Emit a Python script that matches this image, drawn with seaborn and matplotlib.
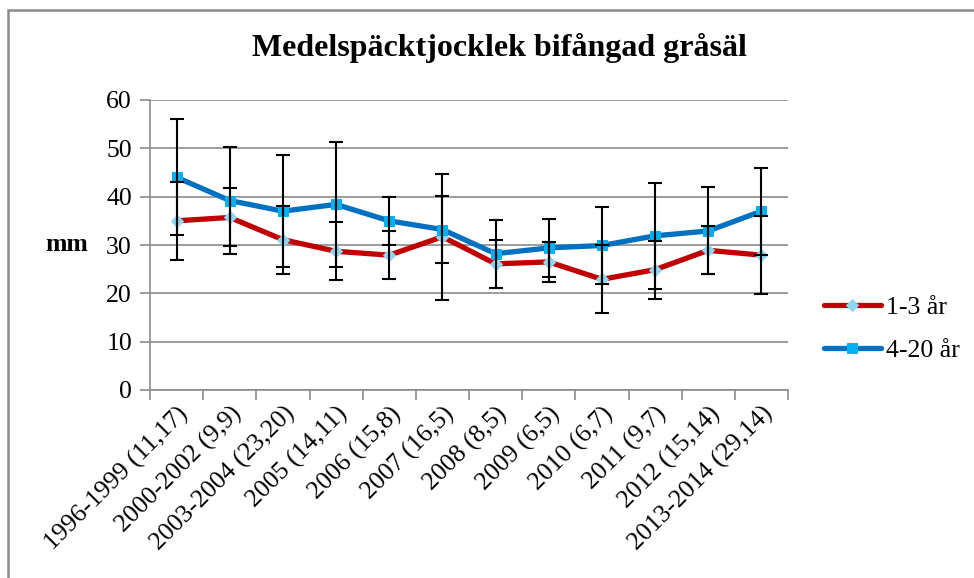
import numpy as np
import pandas as pd
import matplotlib
matplotlib.use("Agg")
import matplotlib.pyplot as plt
import seaborn as sns
from matplotlib.patches import Rectangle

# kategorier (år och antal individer)
kategorier = ['1996-1999 (11,17)', '2000-2002 (9,9)', '2003-2004 (23,20)', '2005 (14,11)',
              '2006 (15,8)', '2007 (16,5)', '2008 (8,5)', '2009 (6,5)', '2010 (6,7)',
              '2011 (9,7)', '2012 (15,14)', '2013-2014 (29,14)']

# medelvärden och standardavvikelse (mm)
unga_medel = [35.0, 35.7, 31.1, 28.7, 27.9, 31.7, 26.1, 26.5, 22.9, 24.9, 28.9, 27.9]
unga_sd = [8.0, 6.0, 7.0, 6.0, 5.0, 13.0, 5.0, 4.2, 7.0, 6.0, 5.0, 8.0]
vuxna_medel = [44.0, 39.2, 37.0, 38.4, 35.0, 33.2, 28.2, 29.4, 29.9, 31.9, 32.9, 37.0]
vuxna_sd = [12.0, 11.0, 11.6, 13.0, 5.0, 7.0, 7.0, 6.0, 8.0, 11.0, 9.0, 9.0]

sns.set_theme(style="white")
plt.rcParams['font.family'] = ['Liberation Serif', 'DejaVu Serif']
plt.rcParams['text.color'] = 'black'
plt.rcParams['xtick.color'] = 'black'
plt.rcParams['ytick.color'] = 'black'

fig = plt.figure(figsize=(9.74, 5.78), dpi=100)
ax = fig.add_axes([150 / 974, 1 - 390 / 578, 638 / 974, 290 / 578])

x = np.arange(len(kategorier))
df = pd.DataFrame({'x': np.concatenate([x, x]),
                   'mm': unga_medel + vuxna_medel,
                   'grupp': ['1-3 år'] * len(x) + ['4-20 år'] * len(x)})

serier = [('1-3 år', '#C00000', 'D', '#8FD6F0', 6, unga_medel, unga_sd),
          ('4-20 år', '#0070C0', 's', '#00B0F0', 7, vuxna_medel, vuxna_sd)]

for namn, farg, mark, mfarg, ms, medel, sd in serier:
    sns.lineplot(data=df[df['grupp'] == namn], x='x', y='mm', ax=ax, color=farg,
                 linewidth=3.8, marker=mark, markersize=ms, markerfacecolor=mfarg,
                 markeredgecolor=mfarg, label=namn, zorder=3)
    ax.errorbar(x, medel, yerr=sd, fmt='none', ecolor='black', elinewidth=1.5,
                capsize=5, capthick=1.5, zorder=4)

ax.set_xlim(-0.5, len(kategorier) - 0.5)
ax.set_ylim(0, 60)
ax.set_yticks(range(0, 61, 10))
ax.set_xticks(x)
ax.set_xticklabels(kategorier, rotation=45, ha='right', rotation_mode='anchor', fontsize=18.5)
ax.set_xticks(np.arange(-0.5, len(kategorier), 1), minor=True)
ax.tick_params(axis='x', which='major', length=0, pad=9)
ax.tick_params(axis='x', which='minor', length=7, color='#8c8c8c', width=1.2, direction='out', bottom=True)
ax.tick_params(axis='y', length=7, color='#8c8c8c', labelcolor='black', width=1.2, direction='out',
               left=True, labelsize=18.5, pad=6)
ax.yaxis.grid(True, color='#8c8c8c', linewidth=1.2)
ax.xaxis.grid(False)
for s in ['top', 'right']:
    ax.spines[s].set_visible(False)
for s in ['left', 'bottom']:
    ax.spines[s].set_color('#8c8c8c')
    ax.spines[s].set_linewidth(1.2)
ax.set_xlabel('')
ax.set_ylabel('')

fig.text(88 / 974, 1 - 245 / 578, 'mm', ha='right', va='center', fontsize=18.5, fontweight='bold')
fig.text(499 / 974, 1 - 48 / 578, 'Medelspäcktjocklek bifångad gråsäl', ha='center', va='center',
         fontsize=23, fontweight='bold')

ax.legend(loc='center left', bbox_to_anchor=(824 / 974, 1 - 329 / 578), bbox_transform=fig.transFigure,
          frameon=False, fontsize=18.5, handlelength=2.2, labelspacing=0.75, handletextpad=0.2,
          borderpad=0, borderaxespad=0)

fig.patches.append(Rectangle((8 / 974, -0.1), 1.2, 1 - 10 / 578 + 0.1, transform=fig.transFigure,
                             fill=False, edgecolor='#8c8c8c', linewidth=1.8))

fig.savefig('out.png', dpi=100)
